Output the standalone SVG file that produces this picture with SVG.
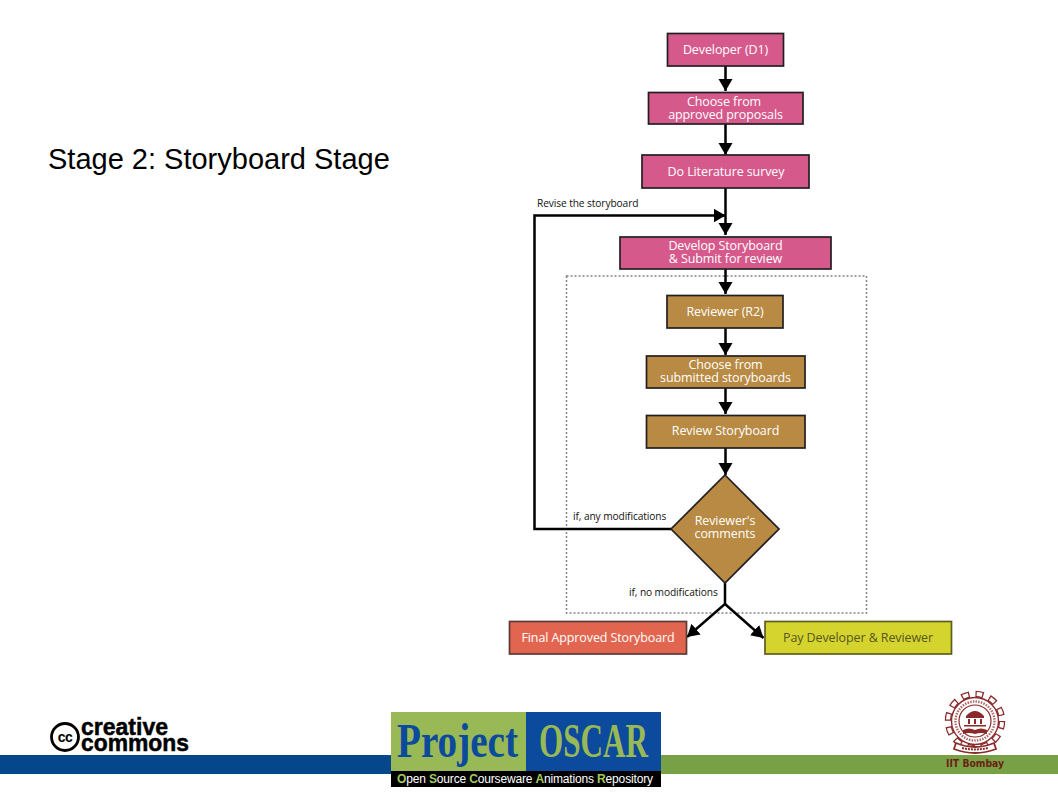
<svg xmlns="http://www.w3.org/2000/svg" width="1058" height="793" viewBox="0 0 1058 793">
<style>
.n{stroke:#231f20;stroke-width:1.7}
.p{fill:#d6598c}.b{fill:#b88a43}
.t{font-family:"Open Sans","Noto Sans",sans-serif;font-size:12.5px;font-weight:500;fill:#fff;text-anchor:middle;letter-spacing:-.1px}
.l{font-family:"Open Sans","Noto Sans",sans-serif;font-size:10.2px;font-weight:500;fill:#111;letter-spacing:-.1px}
.c{fill:none;stroke:#000;stroke-width:2.500}
</style>
<defs>
<marker id="a" markerUnits="userSpaceOnUse" markerWidth="15" markerHeight="15" refX="12" refY="7" orient="auto"><path d="M0 0L12 7L0 14Z" fill="#000"/></marker>
</defs>
<rect width="1058" height="793" fill="#fff"/>
<g id="footer-bar">
<rect x="0" y="755" width="400" height="19" fill="#04478a"/>
<rect x="655" y="755" width="403" height="19" fill="#78a045"/>
</g>
<text id="title" x="48" y="168.500" font-family="'Liberation Sans',Arial,sans-serif" font-size="29" fill="#000">Stage 2: Storyboard Stage</text>
<rect id="review-boundary" x="566.500" y="276" width="300" height="337" fill="none" stroke="#85808a" stroke-width="1.500" stroke-dasharray="2 2"/>
<g id="connectors">
<path class="c" d="M725.500 66V91" marker-end="url(#a)"/>
<path class="c" d="M725.500 124V155" marker-end="url(#a)"/>
<path class="c" d="M725.500 188V235" marker-end="url(#a)"/>
<path class="c" d="M725.500 269V294" marker-end="url(#a)"/>
<path class="c" d="M725.500 328V355" marker-end="url(#a)"/>
<path class="c" d="M725.500 388V414" marker-end="url(#a)"/>
<path class="c" d="M725.500 448V475" marker-end="url(#a)"/>
<path class="c" d="M671 529H534.500V215.500H725.500" marker-end="url(#a)"/>
<path class="c" d="M725 583V604L687 637" marker-end="url(#a)"/>
<path class="c" d="M725 604L763.500 638" marker-end="url(#a)"/>
</g>
<g id="developer"><rect class="n p" x="667.500" y="33.500" width="116" height="32.500"/><text class="t" x="725.500" y="54">Developer (D1)</text></g>
<g id="choose-proposals"><rect class="n p" x="648.500" y="92.500" width="154.500" height="31.500"/><text class="t" x="724" y="106">Choose from</text><text class="t" x="725.500" y="119">approved proposals</text></g>
<g id="literature"><rect class="n p" x="642" y="155" width="167" height="33"/><text class="t" x="726" y="176">Do Literature survey</text></g>
<g id="develop-storyboard"><rect class="n p" x="620" y="237" width="211" height="32"/><text class="t" x="725.500" y="250">Develop Storyboard</text><text class="t" x="725.500" y="263">&amp; Submit for review</text></g>
<g id="reviewer"><rect class="n b" x="667" y="295.500" width="116" height="32.500"/><text class="t" x="725" y="316">Reviewer (R2)</text></g>
<g id="choose-storyboards"><rect class="n b" x="646.500" y="356" width="158.500" height="32"/><text class="t" x="725.500" y="369">Choose from</text><text class="t" x="725.500" y="382">submitted storyboards</text></g>
<g id="review-storyboard"><rect class="n b" x="646.500" y="415.500" width="158.500" height="32.500"/><text class="t" x="725.500" y="435">Review Storyboard</text></g>
<g id="comments"><path class="n b" d="M725 475L779 529L725 583L671 529Z"/><text class="t" x="725" y="525">Reviewer's</text><text class="t" x="725" y="538">comments</text></g>
<g id="final"><rect x="509.500" y="621.500" width="177" height="32.500" fill="#e2664f" stroke="#5a3a34" stroke-width="1.700"/><text class="t" x="598" y="642">Final Approved Storyboard</text></g>
<g id="pay"><rect x="765" y="621.500" width="186.500" height="32.500" fill="#d5d42f" stroke="#5c5c24" stroke-width="1.700"/><text class="t" x="858" y="642" style="fill:#55571f">Pay Developer &amp; Reviewer</text></g>
<g id="labels">
<text class="l" x="537" y="207">Revise the storyboard</text>
<text class="l" x="573" y="520">if, any modifications</text>
<text class="l" x="629" y="596">if, no modifications</text>
</g>
<g id="cc-logo">
<circle cx="65" cy="737" r="13.500" fill="#fff" stroke="#000" stroke-width="2.800"/>
<text x="65" y="741.500" text-anchor="middle" font-family="'Liberation Sans',sans-serif" font-weight="700" font-size="14" letter-spacing="-.5">cc</text>
<text x="81" y="735" font-family="'Liberation Sans',sans-serif" font-weight="700" font-size="24" stroke="#000" stroke-width=".5" textLength="87" lengthAdjust="spacingAndGlyphs">creative</text>
<text x="81" y="751" font-family="'Liberation Sans',sans-serif" font-weight="700" font-size="24" stroke="#000" stroke-width=".5" textLength="108" lengthAdjust="spacingAndGlyphs">commons</text>
</g>
<g id="oscar-logo">
<rect x="391" y="712" width="135" height="59" fill="#99b856"/>
<rect x="526" y="712" width="135" height="59" fill="#0b4a9c"/>
<rect x="391" y="771" width="270" height="16" fill="#000"/>
<text x="397" y="757" font-family="'Liberation Serif',serif" font-weight="700" font-size="48" fill="#0b4a9c" textLength="121" lengthAdjust="spacingAndGlyphs">Project</text>
<text x="539" y="757" font-family="'Liberation Serif',serif" font-weight="700" font-size="48" fill="#99b856" textLength="109" lengthAdjust="spacingAndGlyphs">OSCAR</text>
<text x="397" y="783" font-family="'Liberation Sans',sans-serif" font-size="12" fill="#fff" textLength="256"><tspan fill="#a6c95d" font-weight="700">O</tspan>pen <tspan fill="#a6c95d" font-weight="700">S</tspan>ource <tspan fill="#a6c95d" font-weight="700">C</tspan>ourseware <tspan fill="#a6c95d" font-weight="700">A</tspan>nimations <tspan fill="#a6c95d" font-weight="700">R</tspan>epository</text>
</g>
<g id="iit-logo" fill="none" stroke="#8a2a2a">
<circle cx="975" cy="721" r="27" stroke-width="6.500" stroke-dasharray="8 6.140"/>
<circle cx="975" cy="721" r="27" stroke="#fff" stroke-width="4" stroke-dasharray="5.500 8.640" stroke-dashoffset="-1.250"/>
<circle cx="975" cy="721" r="23.500" stroke-width="1.400" fill="#fff"/>
<circle cx="975" cy="721" r="19.500" stroke-width="2.500" stroke-dasharray="1.500 1.200" stroke="#b06a6a"/>
<circle cx="975" cy="721" r="16" stroke-width="1.200"/>
<path d="M966 716q9-10 18 0v2h-18zM968 719h2v5h-2zM974 719h2v5h-2zM980 719h2v5h-2zM964 725h22v1.500h-22zM963 730q6-3 12 0q6-3 12 0v4q-6-2-12 0q-6-2-12 0z" fill="#8a2a2a" stroke="none"/>
<path d="M956 743q19 8 38 0l2 6q-21 8-42 0z" fill="#fff" stroke-width="1.800"/>
<path d="M962 748q13 3 26 0" stroke-width="2" stroke-dasharray="2 1"/>
<text x="946" y="767" font-family="'DejaVu Sans',sans-serif" font-weight="700" font-size="10" fill="#6b1f14" stroke="none" textLength="58" lengthAdjust="spacingAndGlyphs">IIT Bombay</text>
</g>
</svg>
